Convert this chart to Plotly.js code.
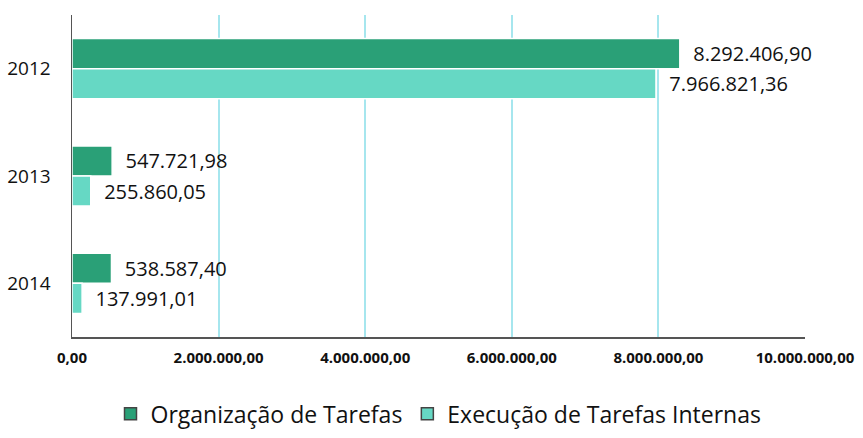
<!DOCTYPE html>
<html>
<head>
<meta charset="utf-8">
<script src="https://cdn.plot.ly/plotly-3.0.1.min.js"></script>
<style>html,body{margin:0;padding:0;background:#fff;}#chart{width:863px;height:438px;}</style>
</head>
<body>
<div id="chart"></div>
<script>
const years = ['2012', '2013', '2014'];
const organizacao = [8292406.90, 547721.98, 538587.40];
const execucao = [7966821.36, 255860.05, 137991.01];
const tickVals = [0, 2000000, 4000000, 6000000, 8000000, 10000000];
const seriesNames = ['Organização de Tarefas', 'Execução de Tarefas Internas'];
const seriesColors = ['#2aa077', '#66d8c4'];

const textFont = {family: '"Open Sans", sans-serif', size: 20, color: '#111'};

function barTrace(name, values, color, group) {
  return {
    type: 'bar', orientation: 'h', name: name, offsetgroup: group,
    y: years, x: values, showlegend: false,
    marker: {color: color, line: {color: '#ffffff', width: 1.5}},
    texttemplate: '\u00a0\u00a0%{x:,.2f}', textposition: 'outside', cliponaxis: false,
    constraintext: 'none',
    textfont: textFont, hoverinfo: 'none'
  };
}
function legendTrace(name, color, group) {
  return {
    type: 'bar', orientation: 'h', name: name, offsetgroup: group,
    y: [years[0]], x: [null], showlegend: true,
    marker: {color: color, line: {color: '#444', width: 1.5}},
    hoverinfo: 'none'
  };
}

const traces = [
  barTrace(seriesNames[0], organizacao, seriesColors[0], 'a'),
  barTrace(seriesNames[1], execucao, seriesColors[1], 'b'),
  legendTrace(seriesNames[0], seriesColors[0], 'a'),
  legendTrace(seriesNames[1], seriesColors[1], 'b')
];

const layout = {
  width: 863, height: 438,
  margin: {l: 72, r: 58, t: 15, b: 101},
  separators: ',.',
  barmode: 'group', bargap: 0.44, bargroupgap: 0,
  paper_bgcolor: '#fff', plot_bgcolor: '#fff',
  font: {family: '"Open Sans", sans-serif', color: '#111'},
  xaxis: {
    range: [0, 10000000], tickvals: tickVals, tickformat: ',.2f',
    showgrid: true, gridcolor: '#a6e6ee', gridwidth: 2,
    zeroline: false, showline: true, linecolor: '#555', linewidth: 1.5,
    tickfont: {family: '"Open Sans", sans-serif', size: 15, color: '#111', weight: 'bold'},
    ticks: '', ticklabelstandoff: 6
  },
  yaxis: {
    autorange: 'reversed', type: 'category',
    showgrid: false, zeroline: false, showline: true, linecolor: '#555', linewidth: 1.5,
    tickfont: {family: '"Open Sans", sans-serif', size: 19, color: '#111'},
    ticks: '', ticklabelstandoff: 16
  },
  legend: {
    orientation: 'h', x: 0.5, xanchor: 'center', xref: 'paper',
    y: 0.055, yanchor: 'middle', yref: 'container',
    font: {family: '"Open Sans", sans-serif', size: 23, color: '#111'},
    traceorder: 'normal', itemwidth: 30
  },
  showlegend: true
};

Plotly.newPlot('chart', traces, layout, {displayModeBar: false, staticPlot: true});
</script>
</body>
</html>
